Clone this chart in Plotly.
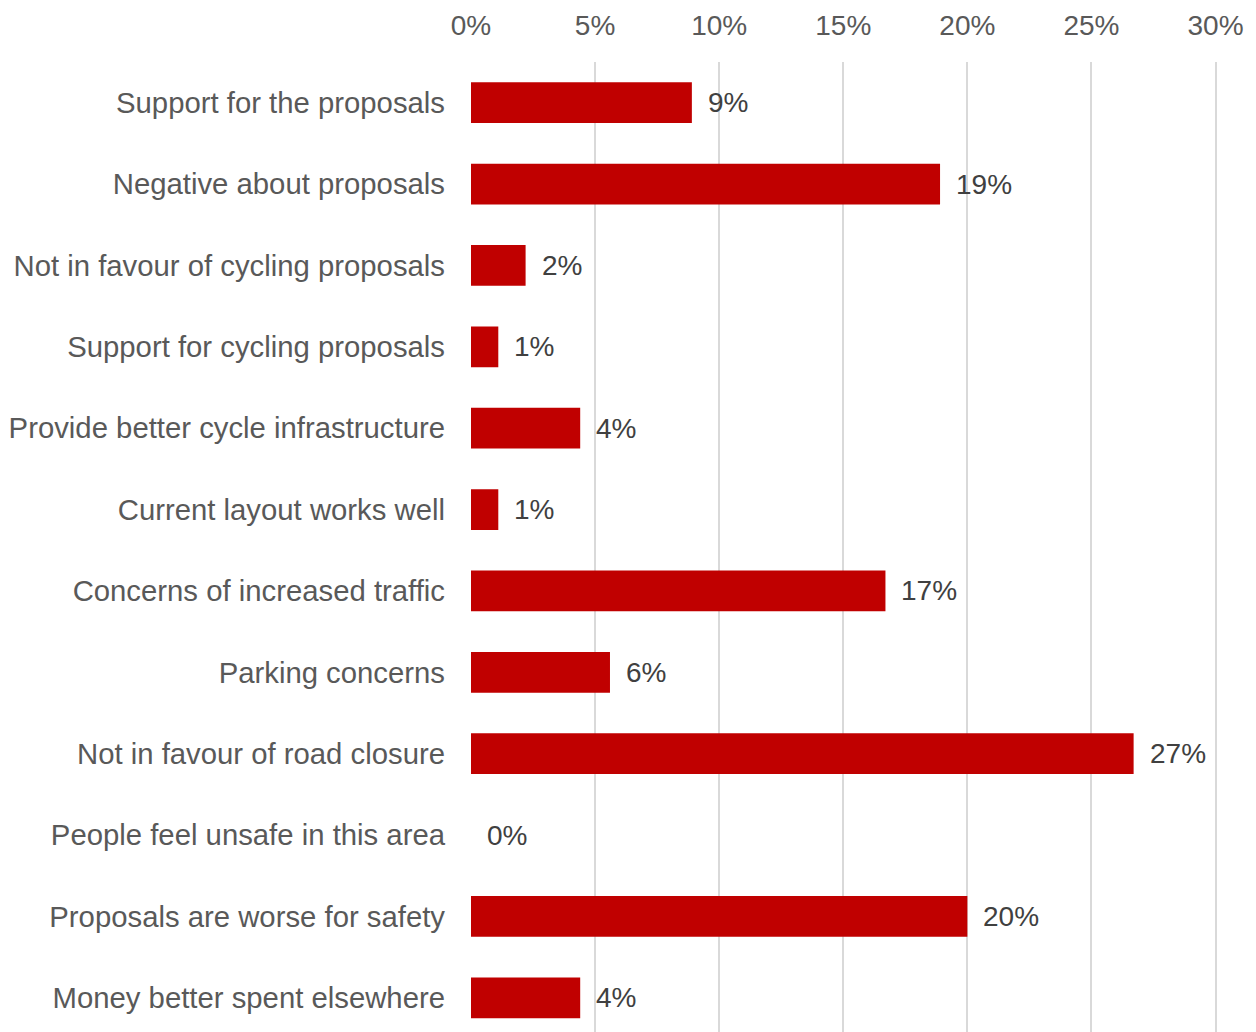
import plotly.graph_objects as go

categories = [
    "Support for the proposals",
    "Negative about proposals",
    "Not in favour of cycling proposals",
    "Support for cycling proposals",
    "Provide better cycle infrastructure",
    "Current layout works well",
    "Concerns of increased traffic",
    "Parking concerns",
    "Not in favour of road closure",
    "People feel unsafe in this area",
    "Proposals are worse for safety",
    "Money better spent elsewhere",
]
values = [8.9, 18.9, 2.2, 1.1, 4.4, 1.1, 16.7, 5.6, 26.7, 0.0, 20.0, 4.4]
x_ticks = [0, 5, 10, 15, 20, 25, 30]
x_tick_labels = [f"{t}%" for t in x_ticks]

FONT = "Liberation Sans, Arial, sans-serif"
FS = 28

fig = go.Figure()
fig.add_trace(go.Bar(
    x=values,
    y=categories,
    orientation="h",
    marker=dict(color="#C00000", line=dict(width=0)),
    hoverinfo="skip",
))

for c, v in zip(categories, values):
    fig.add_annotation(
        x=v, y=c, xref="x", yref="y",
        text=f"{round(v):.0f}%",
        showarrow=False, xanchor="left", yanchor="middle",
        xshift=14,
        font=dict(family=FONT, size=FS, color="#404040"),
    )

fig.update_layout(
    width=1248, height=1024,
    margin=dict(l=463, r=38, t=54, b=0),
    paper_bgcolor="white", plot_bgcolor="white",
    bargap=0.5,
    showlegend=False,
    font=dict(family=FONT, size=FS, color="#595959"),
)
fig.update_xaxes(
    side="top", range=[0, 30.1],
    tickvals=x_ticks, ticktext=x_tick_labels,
    showgrid=True, gridcolor="#D9D9D9", gridwidth=1.5,
    zeroline=False, showline=False, ticks="",
    ticklabelstandoff=20,
    tickfont=dict(family=FONT, size=FS, color="#595959"),
)
fig.update_yaxes(
    type="category",
    categoryorder="array", categoryarray=categories,
    range=[11.42, -0.5],
    showgrid=False, zeroline=False, showline=False, ticks="",
    ticklabelstandoff=25,
    tickfont=dict(family=FONT, size=29.3, color="#595959"),
)

fig.write_html("out.html")
